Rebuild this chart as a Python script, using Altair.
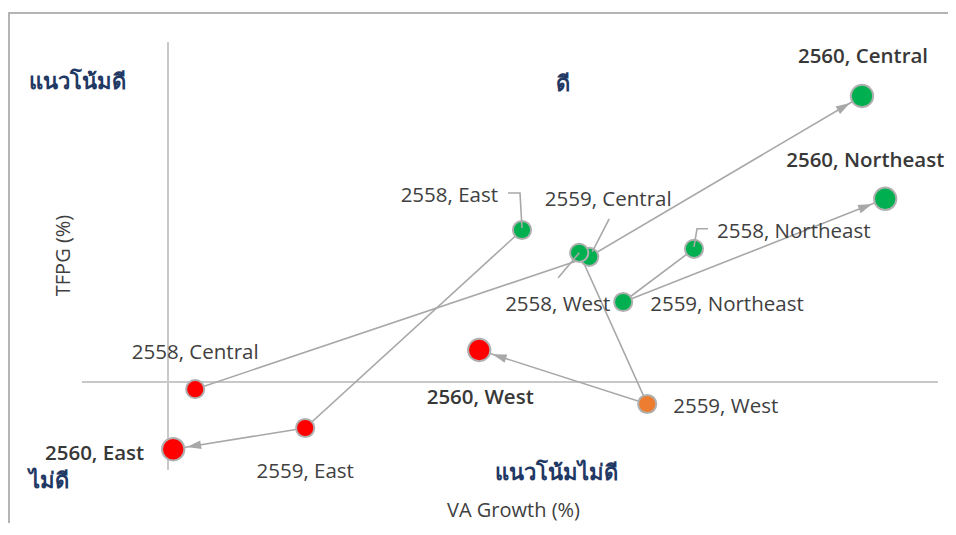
import math
import altair as alt
import pandas as pd

# ---------------- data ----------------
regions = ["Central", "East", "Northeast", "West"]
years = [2558, 2559, 2560]
va_growth = {
    "Central": [0.68, 10.53, 17.35],
    "East": [8.85, 3.43, 0.13],
    "Northeast": [13.15, 11.38, 17.93],
    "West": [10.28, 11.98, 7.78],
}
tfpg = {
    "Central": [-0.18, 3.13, 7.15],
    "East": [3.80, -1.15, -1.68],
    "Northeast": [3.33, 2.00, 4.58],
    "West": [3.23, -0.55, 0.80],
}
status = {
    "Central": ["bad", "good", "good"],
    "East": ["good", "bad", "bad"],
    "Northeast": ["good", "good", "good"],
    "West": ["good", "watch", "bad"],
}
quadrant_labels = ["แนวโน้มดี", "ดี", "ไม่ดี", "แนวโน้มไม่ดี"]
quadrant_x = [-2.27, 9.88, -2.97, 9.70]
quadrant_y = [7.50, 7.45, -2.47, -2.27]
x_title = "VA Growth (%)"
y_title = "TFPG (%)"

# ---------------- layout ----------------
W, H = 940, 515
PX = 40.0  # pixels per data unit on both axes
X_DOMAIN = [-4.0, 19.5]
Y_DOMAIN = [-(H - 374) / PX, 374 / PX]
FONT = "Open Sans"
TXT = "#404040"
GREY = "#a8a8a8"
LABEL_SIZE = 20.5

# label offsets in px from the point: (dx, dy, align)
LABEL_POS = {
    ("Central", 2558): (0, -36, "center"),
    ("Central", 2559): (19, -57, "center"),
    ("Central", 2560): (1, -39, "center"),
    ("East", 2558): (-24, -34, "right"),
    ("East", 2559): (0, 44, "center"),
    ("East", 2560): (-29, 5, "right"),
    ("Northeast", 2558): (23, -17, "left"),
    ("Northeast", 2559): (27, 3, "left"),
    ("Northeast", 2560): (-99, -38, "left"),
    ("West", 2558): (31, 52, "right"),
    ("West", 2559): (26, 3, "left"),
    ("West", 2560): (1, 48, "center"),
}
# leader lines, px offsets from the point
LEADERS = {
    ("East", 2558): [(-14, -37), (-2, -37), (0, -2)],
    ("Central", 2559): [(20, -38), (3, -5)],
    ("West", 2558): [(-21, 25), (0, 0)],
    ("Northeast", 2558): [(14, -20), (3, -20), (0, -2)],
}

rows = []
for r in regions:
    for i, yr in enumerate(years):
        rows.append({"region": r, "year": yr, "va": va_growth[r][i], "tfpg": tfpg[r][i],
                     "status": status[r][i], "label": f"{yr}, {r}"})
df = pd.DataFrame(rows)

lab_rows = []
for row in rows:
    dx, dy, al = LABEL_POS[(row["region"], row["year"])]
    lab_rows.append({"label": row["label"], "lx": row["va"] + dx / PX, "ly": row["tfpg"] - dy / PX,
                     "al": al, "bold": bool(row["year"] == 2560)})
labels_df = pd.DataFrame(lab_rows)

lead_rows = []
for (r, yr), pts in LEADERS.items():
    base = df[(df["region"] == r) & (df["year"] == yr)].iloc[0]
    for k, (dx, dy) in enumerate(pts):
        lead_rows.append({"id": f"{r}{yr}", "seq": k, "x": base["va"] + dx / PX, "y": base["tfpg"] - dy / PX})
leaders_df = pd.DataFrame(lead_rows)

# arrowheads at the last point of each path
arrow_rows = []
for r in regions:
    x1, y1 = va_growth[r][1], tfpg[r][1]
    x2, y2 = va_growth[r][2], tfpg[r][2]
    dxp, dyp = (x2 - x1) * PX, -(y2 - y1) * PX
    L = math.hypot(dxp, dyp)
    ux, uy = dxp / L, dyp / L
    back = 14.0 + 7.0
    ang = math.degrees(math.atan2(ux, -uy)) % 360
    arrow_rows.append({"region": r, "x": x2 - ux * back / PX, "y": y2 + uy * back / PX, "angle": ang})
arrows_df = pd.DataFrame(arrow_rows)

quad_df = pd.DataFrame({"t": quadrant_labels, "x": quadrant_x, "y": quadrant_y})

xs = alt.Scale(domain=X_DOMAIN, nice=False, zero=False)
ys = alt.Scale(domain=Y_DOMAIN, nice=False, zero=False)

x_axis = alt.Axis(title=x_title, labels=False, ticks=False, domain=False, grid=False,
                  titleX=505, titleY=-13, titleBaseline="middle", titleAlign="center",
                  titleFont=FONT, titleFontSize=20, titleFontWeight="normal", titleColor=TXT)
y_axis = alt.Axis(title=y_title, labels=False, ticks=False, domain=False, grid=False,
                  titleX=55, titleY=247, titleAngle=270, titleBaseline="middle", titleAlign="center",
                  titleFont=FONT, titleFontSize=20, titleFontWeight="normal", titleColor=TXT)


def X(f):
    return alt.X(f, scale=xs, axis=x_axis)


def Y(f):
    return alt.Y(f, scale=ys, axis=y_axis)


dummy = pd.DataFrame({"a": [0]})
frame_top = alt.Chart(dummy).mark_rule(color="#b4b4b4", strokeWidth=2).encode(
    x=alt.value(0), x2=alt.value(W), y=alt.value(5))
frame_left = alt.Chart(dummy).mark_rule(color="#b4b4b4", strokeWidth=2).encode(
    x=alt.value(1), y=alt.value(5), y2=alt.value(H))

cross = pd.DataFrame({"x": [0, -2.15], "x2": [0, 19.25], "y": [-2.2, 0], "y2": [8.5, 0]})
cross_lines = alt.Chart(cross).mark_rule(color="#c8c8c8", strokeWidth=2).encode(
    x=X("x:Q"), x2="x2:Q", y=Y("y:Q"), y2="y2:Q")

paths = alt.Chart(df).mark_line(color=GREY, strokeWidth=1.6).encode(
    x=X("va:Q"), y=Y("tfpg:Q"), detail="region:N", order="year:O")

heads = alt.Chart(arrows_df).mark_point(shape="M0,-1L0.62,1L-0.62,1Z", filled=True, opacity=1,
                                        color=GREY, size=200, strokeWidth=0).encode(
    x=X("x:Q"), y=Y("y:Q"), angle=alt.Angle("angle:Q", scale=None))

points = alt.Chart(df).mark_circle(opacity=1, stroke="#b0b0b0", strokeWidth=2).encode(
    x=X("va:Q"), y=Y("tfpg:Q"),
    color=alt.Color("status:N", scale=alt.Scale(domain=["good", "bad", "watch"],
                                                range=["#00b050", "#ff0000", "#ed7d31"]), legend=None),
    size=alt.condition(alt.datum.year == 2560, alt.value(500), alt.value(330)))

leaders = alt.Chart(leaders_df).mark_line(color=GREY, strokeWidth=1.6).encode(
    x=X("x:Q"), y=Y("y:Q"), detail="id:N", order="seq:Q")

text_layers = []
for al in ["left", "center", "right"]:
    for bold in [False, True]:
        sub = labels_df[(labels_df["al"] == al) & (labels_df["bold"] == bold)]
        if len(sub) == 0:
            continue
        text_layers.append(alt.Chart(sub).mark_text(
            align=al, baseline="middle", font=FONT, fontSize=LABEL_SIZE,
            fontWeight=600 if bold else "normal", color="#383838" if bold else TXT).encode(
            x=X("lx:Q"), y=Y("ly:Q"), text="label:N"))

quad = alt.Chart(quad_df).mark_text(align="center", baseline="middle", font=FONT, fontSize=22,
                                    fontWeight="bold", color="#1f3864").encode(
    x=X("x:Q"), y=Y("y:Q"), text="t:N")

chart = alt.layer(frame_top, frame_left, cross_lines, paths, heads, points, leaders, *text_layers, quad
                  ).properties(width=W, height=H, padding=0, autosize=alt.AutoSizeParams(type="none")
                  ).configure_view(stroke=None)

chart.save("out.html", embed_options={"renderer": "svg", "actions": False})
